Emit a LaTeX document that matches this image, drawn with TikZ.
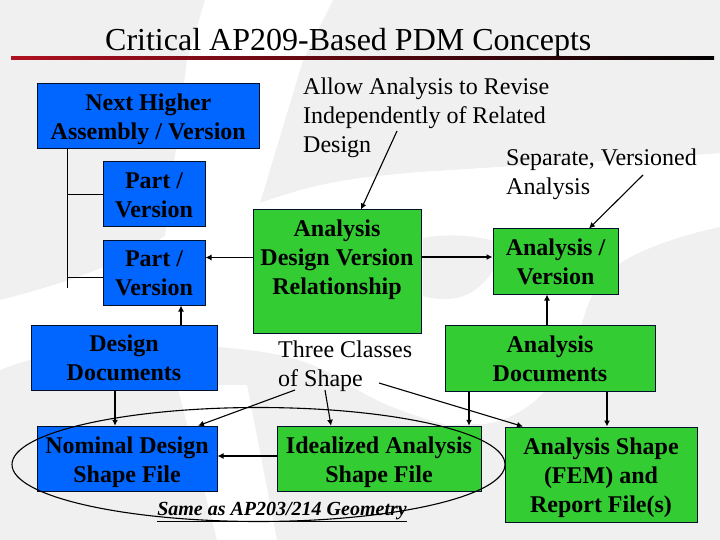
\documentclass[tikz,border=0pt]{standalone}
\usepackage{fontspec}
\setmainfont{Liberation Serif}
\usetikzlibrary{arrows.meta}
\definecolor{bggray}{HTML}{F0F0F0}
\definecolor{boxblue}{HTML}{0066FF}
\definecolor{boxgreen}{HTML}{33CC33}
\definecolor{barred}{HTML}{B01020}
\definecolor{boxedge}{HTML}{00102A}
\newcommand\bt[1]{\begin{tabular}{@{}c@{}}\rule{0pt}{26.5pt}#1\end{tabular}}
\tikzset{
  x=1pt,y=-1pt,
  box/.style={draw=boxedge,line width=1pt,inner sep=0pt,font=\fontsize{24}{29}\selectfont\bfseries,text=black},
  bluebox/.style={box,fill=boxblue},
  greenbox/.style={box,fill=boxgreen},
  note/.style={inner sep=0pt,align=left,anchor=north west,font=\fontsize{24}{29}\selectfont,text=black},
  thick arrow/.style={line width=1.8pt,-{Latex[length=6pt,width=6pt]}},
  thin arrow/.style={line width=1.1pt,-{Latex[length=6pt,width=6pt]}},
  tree/.style={line width=0.9pt},
}
\begin{document}
\begin{tikzpicture}
\useasboundingbox (0,0) rectangle (720,540);
% background
\fill[bggray] (0,0) rectangle (720,540);
\fill[white] (205,0) -- (333,0) -- (303,60) -- (260,203)
  .. controls (320,182) and (350,178) .. (420,172)
  .. controls (520,165) and (640,160) .. (720,153)
  -- (720,227) .. controls (680,235) and (640,250) .. (620,263)
  .. controls (600,278) and (592,295) .. (587,307)
  .. controls (575,345) and (560,375) .. (543,393)
  .. controls (525,412) and (500,424) .. (480,424)
  -- (447,425) .. controls (420,418) and (400,410) .. (383,403)
  .. controls (365,395) and (350,385) .. (337,377)
  .. controls (310,362) and (285,352) .. (218,347)
  .. controls (150,342) and (60,345) .. (0,370)
  -- (0,300) .. controls (60,285) and (120,265) .. (165,236) -- (187,60) -- cycle;
\fill[white] (177,385) -- (247,385) -- (277,540) -- (217,540) -- cycle;
\fill[bggray] (423,238) .. controls (450,233) and (475,236) .. (495,241)
  -- (493,270) .. controls (485,285) and (470,295) .. (457,298)
  .. controls (445,300) and (432,299) .. (423,296) -- cycle;
% title
\node[inner sep=0pt,anchor=base west,font=\fontsize{32}{38}\selectfont] (title) at (105,51) {Critical AP209-Based PDM Concepts};
\shade[left color=barred,right color=black] (11,56.5) rectangle (714,60);
% boxes
\node[bluebox,minimum width=222.5,minimum height=65] (nh) at (148.25,116.5) {\bt{Next Higher\\Assembly / Version}};
\node[bluebox,minimum width=102,minimum height=65] (p1) at (154,194.5) {\bt{Part /\\Version}};
\node[bluebox,minimum width=102,minimum height=65] (p2) at (154,272.5) {\bt{Part /\\Version}};
\node[bluebox,minimum width=186,minimum height=65] (dd) at (124,357.5) {\bt{Design\\Documents}};
\node[bluebox,minimum width=180,minimum height=65.5] (nom) at (127,459) {\bt{Nominal Design\\Shape File}};
\node[greenbox,minimum width=168,minimum height=123] (adv) at (337,271.5) {\bt{Analysis\\Design Version\\Relationship\\\mbox{}}};
\node[greenbox,minimum width=125,minimum height=65] (av) at (555.5,261.5) {\bt{Analysis /\\Version}};
\node[greenbox,minimum width=210,minimum height=66] (ad) at (550,358) {\bt{Analysis\\Documents}};
\node[greenbox,minimum width=204,minimum height=65.5] (ideal) at (379,459) {\bt{Idealized Analysis\\Shape File}};
\node[greenbox,minimum width=192,minimum height=95] (shape) at (601,474.5) {\bt{Analysis Shape\\(FEM) and\\Report File(s)}};
% notes
\node[note] (allow) at (303,78) {Allow Analysis to Revise\\Independently of Related\\Design};
\node[note] (sep) at (506,149) {Separate, Versioned\\Analysis};
\node[note] (three) at (278,341) {Three Classes\\of Shape};
\node[inner sep=0pt,anchor=base,font=\fontsize{20}{24}\selectfont\bfseries\itshape] (same) at (282,515) {\underline{Same as AP203/214 Geometry}};
% tree
\coordinate (treeend) at (67,288);
\draw[tree] ([xshift=-81.25]nh.south) -- (treeend);
\draw[tree] (p1.west) -- (p1.west -| treeend);
\draw[tree] ([yshift=-4.5]p2.west) -- ([yshift=-4.5]p2.west -| treeend);
% connectors
\draw[thin arrow] ([yshift=14]adv.west) -- ([yshift=15]p2.east);
\draw[thick arrow] ([xshift=57]dd.north) -- ([xshift=27]p2.south);
\draw[thick arrow] ([yshift=14.5]adv.east) -- ([yshift=4.5]av.west);
\draw[thick arrow] ([xshift=-3]ad.north) -- ([xshift=-8.5]av.south);
\draw[thick arrow] ([xshift=-9]dd.south) -- ([xshift=-12]nom.north);
\draw[thick arrow] ([yshift=3]ideal.west) -- ([yshift=3]nom.east);
\draw[thick arrow] ([xshift=-81]ad.south) -- ([xshift=90]ideal.north);
\draw[thick arrow] ([xshift=57]ad.south) -- ([xshift=6]shape.north);
\coordinate (allowtail) at (397,131);
\coordinate (septail) at (643,175);
\coordinate (threea) at (295,390);
\coordinate (threeb) at (325,390);
\coordinate (threec) at (379,383);
\draw[thin arrow] (allowtail) -- ([xshift=24]adv.north);
\draw[thin arrow] (septail) -- ([xshift=33.5]av.north);
\draw[thin arrow] (threea) -- ([xshift=71]nom.north);
\draw[thin arrow] (threeb) -- ([xshift=-48]ideal.north);
\draw[thin arrow] (threec) -- ([xshift=-78]shape.north);
% ellipse
\draw[line width=1.1pt,black] (258.5,464.5) ellipse [x radius=246.5,y radius=57];
\end{tikzpicture}
\end{document}
